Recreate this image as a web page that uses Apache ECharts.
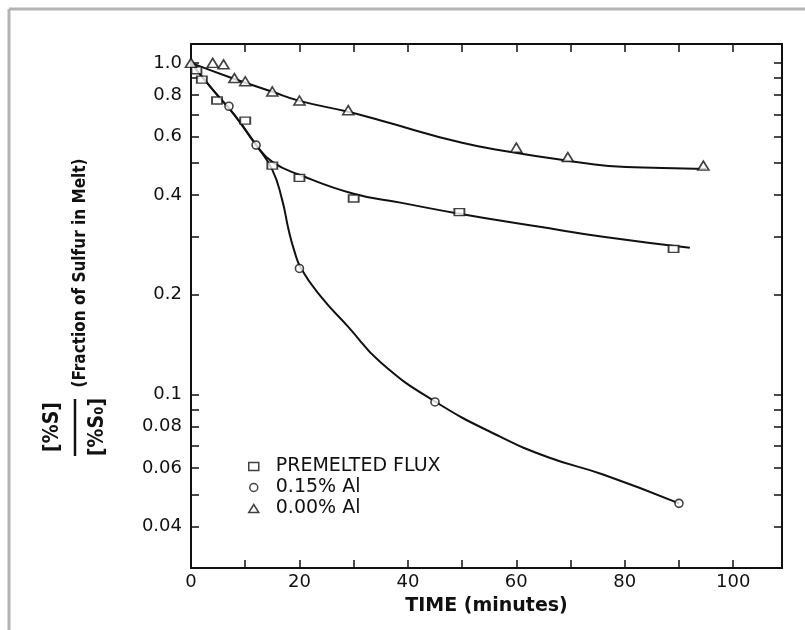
<!DOCTYPE html>
<html>
<head>
<meta charset="utf-8">
<script src="https://cdn.jsdelivr.net/npm/echarts@6/dist/echarts.min.js"></script>
<style>
  html, body { margin: 0; padding: 0; background: #fff; }
  #chart-container { width: 805px; height: 630px; }
</style>
</head>
<body>
<div id="chart-container"></div>
<script>
// measured points (time in minutes, fraction of sulfur)
var fluxTime = [1, 2, 4.8, 10, 15, 20, 30, 49.5, 89];
var fluxS = [0.95, 0.89, 0.77, 0.67, 0.49, 0.45, 0.39, 0.355, 0.275];

var al15Time = [7, 12, 20, 45, 90];
var al15S = [0.74, 0.565, 0.24, 0.095, 0.047];

var al0Time = [0, 4, 6, 8, 10, 15, 20, 29, 60, 69.5, 94.5];
var al0S = [1.0, 1.0, 0.99, 0.9, 0.88, 0.82, 0.77, 0.72, 0.555, 0.52, 0.49];

// hand drawn fitted curves
var fluxCurveTime = [0, 4, 8, 12, 15, 20, 30, 38.6, 49.5, 64, 76, 92];
var fluxCurveS = [1.0, 0.83, 0.697, 0.566, 0.503, 0.46, 0.403, 0.379, 0.351, 0.321, 0.299, 0.277];

var al15CurveTime = [0, 4, 8, 12, 15, 16.8, 18, 19, 20.3, 24, 29, 35, 45, 57, 66, 76, 90];
var al15CurveS = [1.0, 0.83, 0.697, 0.566, 0.476, 0.387, 0.314, 0.273, 0.24, 0.197, 0.16, 0.125, 0.0953, 0.0747, 0.0646, 0.0574, 0.047];

var al0CurveTime = [0, 7, 15, 20, 29, 35, 50, 59, 69.5, 77, 87, 95];
var al0CurveS = [1.0, 0.907, 0.818, 0.768, 0.712, 0.67, 0.574, 0.539, 0.507, 0.489, 0.482, 0.479];

var seriesNames = ['PREMELTED FLUX', '0.15% Al', '0.00% Al'];
var yLabelValues = [0.04, 0.06, 0.08, 0.1, 0.2, 0.4, 0.6, 0.8, 1.0];
var yTickValues = [0.04, 0.05, 0.06, 0.07, 0.08, 0.09, 0.1, 0.2, 0.3, 0.4, 0.5, 0.6, 0.7, 0.8, 0.9, 1.0];

function pairs(xs, ys) {
  return xs.map(function (x, i) { return [x, ys[i]]; });
}

var dom = document.getElementById('chart-container');
var myChart = echarts.init(dom, null, { renderer: 'canvas' });

var ink = '#111';
var labelFont = 'DejaVu Sans';

function xAxisOf(pos) {
  return {
    type: 'value',
    position: pos,
    min: 0,
    max: 109,
    interval: 10,
    axisLine: { show: true, onZero: false, lineStyle: { color: ink, width: 2 } },
    axisTick: { show: true, inside: true, length: 8, lineStyle: { color: ink, width: 1.5 } },
    splitLine: { show: false }
  };
}
function yAxisOf(pos) {
  return {
    type: 'log',
    position: pos,
    logBase: 10,
    min: 0.03,
    max: 1.14,
    axisLine: { show: true, onZero: false, lineStyle: { color: ink, width: 2 } },
    axisTick: { show: true, inside: true, length: 8, customValues: yTickValues, lineStyle: { color: ink, width: 1.5 } },
    minorTick: { show: false },
    splitLine: { show: false }
  };
}

var bottomX = xAxisOf('bottom');
bottomX.name = 'TIME (minutes)';
bottomX.nameLocation = 'middle';
bottomX.nameGap = 29;
bottomX.nameTextStyle = { fontFamily: labelFont, fontSize: 19, fontWeight: 'bold', color: ink };
bottomX.axisLabel = {
  margin: 5,
  fontFamily: labelFont,
  fontSize: 18,
  color: ink,
  showMaxLabel: false,
  formatter: function (v) { return v % 20 === 0 && v <= 100 ? String(v) : ''; }
};
var topX = xAxisOf('top');
topX.axisLabel = { show: false };

var leftY = yAxisOf('left');
leftY.axisLabel = {
  customValues: yLabelValues,
  margin: 9,
  fontFamily: labelFont,
  fontSize: 18,
  color: ink,
  formatter: function (v) { return v === 1 ? '1.0' : String(v); }
};
var rightY = yAxisOf('right');
rightY.axisLabel = { show: false };

var legendIcon = { color: '#fff', borderColor: ink, borderWidth: 1.5 };

var option = {
  backgroundColor: '#fff',
  animation: false,
  grid: { left: 191, top: 44, right: 23, bottom: 62 },
  xAxis: [bottomX, topX],
  yAxis: [leftY, rightY],
  legend: {
    orient: 'vertical',
    left: 243,
    top: 452,
    itemGap: 2,
    itemWidth: 10,
    itemHeight: 8,
    textStyle: { fontFamily: labelFont, fontSize: 19, color: ink, padding: [0, 0, 0, 12] },
    data: [
      { name: seriesNames[0], icon: 'rect', itemStyle: legendIcon },
      { name: seriesNames[1], icon: 'circle', itemStyle: legendIcon },
      { name: seriesNames[2], icon: 'triangle', itemStyle: legendIcon }
    ]
  },
  graphic: [
    { type: 'line', shape: { x1: 9, y1: 9, x2: 9, y2: 630 }, style: { stroke: '#b3b3b3', lineWidth: 3 } },
    { type: 'line', shape: { x1: 9, y1: 9, x2: 805, y2: 9 }, style: { stroke: '#b3b3b3', lineWidth: 3 } },
    {
      type: 'text', x: 81, y: 273, rotation: Math.PI / 2,
      style: { text: '(Fraction of Sulfur in Melt)', fontFamily: 'DejaVu Sans Condensed', fontWeight: 'bold', fontSize: 17, fill: ink, align: 'center', verticalAlign: 'middle' }
    },
    {
      type: 'text', x: 53, y: 427, rotation: Math.PI / 2,
      style: { text: '[%S]', fontFamily: 'DejaVu Sans Condensed', fontWeight: 'bold', fontSize: 21, fill: ink, align: 'center', verticalAlign: 'middle' }
    },
    { type: 'line', shape: { x1: 75, y1: 399, x2: 75, y2: 456 }, style: { stroke: ink, lineWidth: 2.5 } },
    {
      type: 'text', x: 98, y: 427, rotation: Math.PI / 2,
      style: { text: '[%S₀]', fontFamily: 'DejaVu Sans Condensed', fontWeight: 'bold', fontSize: 21, fill: ink, align: 'center', verticalAlign: 'middle' }
    }
  ],
  series: [
    {
      name: 'flux curve', type: 'line', data: pairs(fluxCurveTime, fluxCurveS),
      smooth: 0.5, showSymbol: false, silent: true,
      lineStyle: { color: ink, width: 2 }, z: 1
    },
    {
      name: 'al15 curve', type: 'line', data: pairs(al15CurveTime, al15CurveS),
      smooth: 0.5, showSymbol: false, silent: true,
      lineStyle: { color: ink, width: 2 }, z: 1
    },
    {
      name: 'al0 curve', type: 'line', data: pairs(al0CurveTime, al0CurveS),
      smooth: 0.5, showSymbol: false, silent: true,
      lineStyle: { color: ink, width: 2 }, z: 1
    },
    {
      name: seriesNames[0], type: 'scatter', data: pairs(fluxTime, fluxS),
      symbol: 'rect', symbolSize: [10, 7],
      itemStyle: { color: '#fff', borderColor: ink, borderWidth: 1.6 }, z: 3
    },
    {
      name: seriesNames[1], type: 'scatter', data: pairs(al15Time, al15S),
      symbol: 'circle', symbolSize: 8,
      itemStyle: { color: '#fff', borderColor: ink, borderWidth: 1.6 }, z: 3
    },
    {
      name: seriesNames[2], type: 'scatter', data: pairs(al0Time, al0S),
      symbol: 'triangle', symbolSize: [11, 9],
      itemStyle: { color: '#fff', borderColor: ink, borderWidth: 1.6 }, z: 3
    }
  ]
};

if (option && typeof option === 'object') {
  myChart.setOption(option);
}

window.addEventListener('resize', myChart.resize);
</script>
</body>
</html>
